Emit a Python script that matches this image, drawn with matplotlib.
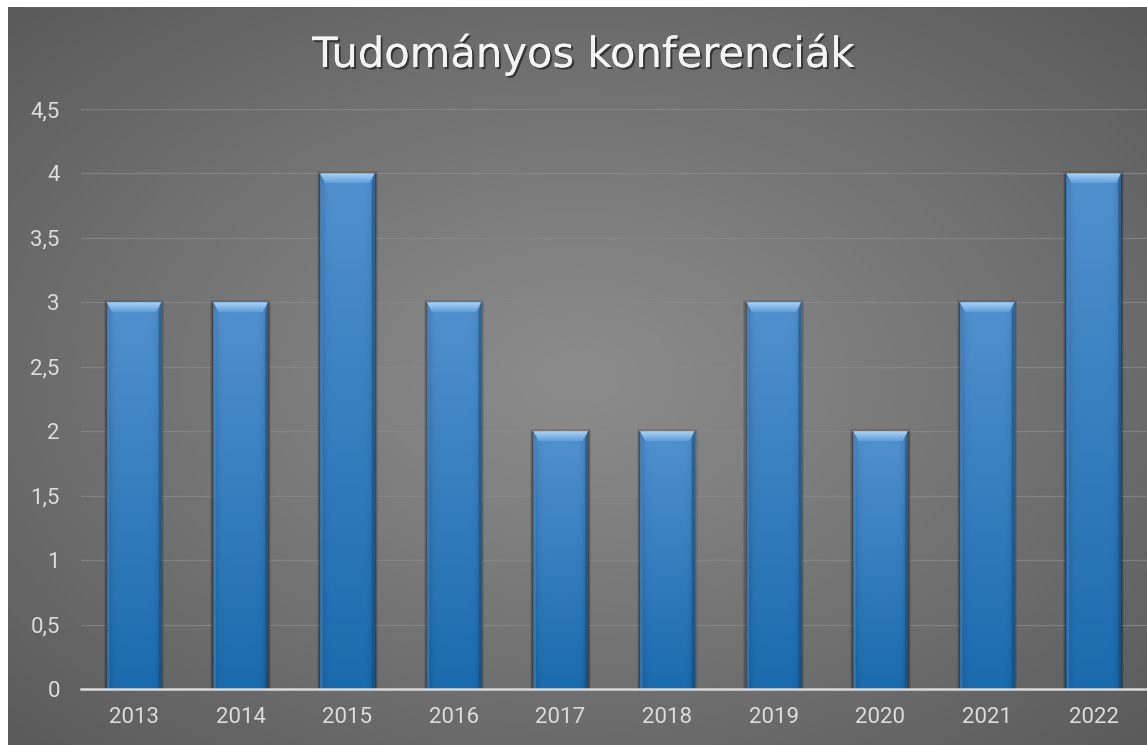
import numpy as np
import matplotlib
matplotlib.use("Agg")
import matplotlib.pyplot as plt
from matplotlib.patches import Polygon, Rectangle
import matplotlib.patheffects as pe

# ---- data ----
years = ["2013", "2014", "2015", "2016", "2017", "2018", "2019", "2020", "2021", "2022"]
counts = [3, 3, 4, 3, 2, 2, 3, 2, 3, 4]
yticks = [0, 0.5, 1, 1.5, 2, 2.5, 3, 3.5, 4, 4.5]
ytick_labels = ["0", "0,5", "1", "1,5", "2", "2,5", "3", "3,5", "4", "4,5"]
title = "Tudományos konferenciák"

W, H = 1147, 745
fig = plt.figure(figsize=(W / 100, H / 100), dpi=100, facecolor="white")

# ---- gray radial-gradient background ----
bg = fig.add_axes([8 / W, 0, 1 - 8 / W, 1 - 7 / H], zorder=0)
ny, nx = 300, 460
yy, xx = np.mgrid[0:ny, 0:nx]
dx = (xx - nx * 0.5) / (nx * 0.5)
dy = (yy - ny * 0.5) / (ny * 0.5)
r = np.clip(np.sqrt(dx ** 2 + dy ** 2) / np.sqrt(2), 0, 1)
c_center, c_edge = 0x8c / 255, 0x5a / 255
val = c_center - (c_center - c_edge) * r ** 1.1
img = np.dstack([val, val, val])
bg.imshow(img, extent=(0, 1, 0, 1), aspect="auto", interpolation="bilinear")
bg.set_axis_off()

# ---- main axes ----
ax = fig.add_axes([80.7 / W, 56 / H, 1 - 80.7 / W, (689 - 109) / H], zorder=1)
ax.patch.set_alpha(0)
x = np.arange(len(years))
bw = 0.51
bars = ax.bar(x, counts, width=bw, color="none", edgecolor="none", zorder=3)

ax.set_xlim(-0.5, len(years) - 0.5)
ax.set_ylim(0, 4.5)

# bar styling: gradient fill, bevel, shadow
top_c = np.array([0x52, 0x91, 0xcf]) / 255
bot_c = np.array([0x1a, 0x6b, 0xae]) / 255
bev_top = np.array([0xb4, 0xd9, 0xf7]) / 255
bev_bot = np.array([0x5f, 0x9f, 0xdb]) / 255
for rect, h in zip(bars, counts):
    x0 = rect.get_x()
    x1 = x0 + rect.get_width()
    # soft shadow
    for k, a in [(0.03, 0.10), (0.02, 0.15), (0.01, 0.25)]:
        ax.add_patch(Rectangle((x0 - k, -0.02), (x1 - x0) + 2 * k, h + k * 1.2,
                               facecolor="black", alpha=a, edgecolor="none", zorder=2))
    # body gradient
    t = np.linspace(0, 1, 100)[:, None]
    s = np.linspace(-1, 1, 40)[None, :]
    col = top_c[None, None, :] * (1 - t[..., None]) + bot_c[None, None, :] * t[..., None]
    shade = 1 - 0.22 * (np.abs(s) ** 8)
    col = col * shade[..., None]
    im = ax.imshow(np.clip(col, 0, 1), extent=(x0, x1, 0, h), aspect="auto",
                   interpolation="bilinear", zorder=3)
    im.set_clip_path(rect)
    # bevel on top (gradient trapezoid)
    bx = 0.05
    by = 0.078
    poly = Polygon([(x0, h), (x1, h), (x1 - bx, h - by), (x0 + bx, h - by)],
                   closed=True, facecolor="none", edgecolor="none", zorder=4)
    ax.add_patch(poly)
    tb = np.linspace(0, 1, 30)[:, None, None]
    bcol = bev_top[None, None, :] * (1 - tb) + bev_bot[None, None, :] * tb
    bcol = np.repeat(bcol, 4, axis=1)
    bim = ax.imshow(bcol, extent=(x0, x1, h - by, h), aspect="auto",
                    interpolation="bilinear", zorder=4)
    bim.set_clip_path(poly)
    # subtle side bevels
    ax.add_patch(Polygon([(x0, h), (x0 + bx * 0.5, h - by), (x0 + bx * 0.5, 0), (x0, 0)],
                         closed=True, facecolor="#4d8dca", edgecolor="none", alpha=0.5, zorder=4))
    ax.add_patch(Polygon([(x1, h), (x1 - bx * 0.5, h - by), (x1 - bx * 0.5, 0), (x1, 0)],
                         closed=True, facecolor="#124f82", edgecolor="none", alpha=0.5, zorder=4))

ax.set_xlim(-0.5, len(years) - 0.5)
ax.set_ylim(0, 4.5)

ax.set_yticks(yticks)
ax.set_yticklabels(ytick_labels)
ax.set_xticks(x)
ax.set_xticklabels(years)
ax.tick_params(axis="both", length=0, colors="#d9d9d9", labelsize=16)
ax.tick_params(axis="y", pad=15)
ax.tick_params(axis="x", pad=13)
for lab in ax.get_xticklabels() + ax.get_yticklabels():
    lab.set_color("#dcdcdc")
    lab.set_fontfamily("Roboto")

ax.yaxis.grid(True, color="#8a8a8a", linewidth=1.0, alpha=0.7, zorder=1)
ax.set_axisbelow(True)
for sp in ["top", "right", "left"]:
    ax.spines[sp].set_visible(False)
ax.spines["bottom"].set_color("#d9d9d9")
ax.spines["bottom"].set_linewidth(1.8)
ax.spines["bottom"].set_zorder(5)

fig.text(583 / W, 1 - 67 / H, title, ha="center", va="baseline", fontsize=30,
         color="#f4f4f4", zorder=6, family="DejaVu Sans",
         path_effects=[pe.withSimplePatchShadow(offset=(1.5, -1.5), shadow_rgbFace="black", alpha=0.5),
                       pe.Normal()])

fig.savefig("out.png", dpi=100, facecolor="white")
